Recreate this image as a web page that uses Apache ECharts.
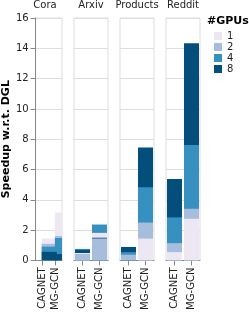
<!DOCTYPE html>
<html>
<head>
<meta charset="utf-8">
<script src="https://cdn.jsdelivr.net/npm/echarts@6/dist/echarts.min.js"></script>
<style>html,body{margin:0;padding:0;background:#fff;}#c{width:249px;height:313px;}</style>
</head>
<body>
<div id="c"></div>
<script>
const datasets = ['Cora', 'Arxiv', 'Products', 'Reddit'];
const methods = ['CAGNET', 'MG-GCN'];
const gpuCounts = ['1', '2', '4', '8'];
const gpuColors = ['#ece7f2', '#a6bddb', '#3690c0', '#034e7b'];
const yTicks = [0, 2, 4, 6, 8, 10, 12, 14, 16];

// speedup w.r.t. DGL, per dataset (Cora, Arxiv, Products, Reddit)
const cagnetGpu1 = [1.44, 0.49, null, 0.55];
const cagnetGpu2 = [1.10, 0.43, 0.38, 1.14];
const cagnetGpu4 = [0.91, 0.76, 0.55, 2.84];
const cagnetGpu8 = [0.57, 0.70, 0.89, 5.37];
const mggcnGpu1 = [3.17, 1.82, 1.44, 2.75];
const mggcnGpu2 = [1.61, 1.45, 2.50, 3.41];
const mggcnGpu4 = [1.48, 2.37, 4.83, 7.62];
const mggcnGpu8 = [0.42, 1.50, 7.45, 14.33];

const cagnet = [cagnetGpu1, cagnetGpu2, cagnetGpu4, cagnetGpu8];
const mggcn = [mggcnGpu1, mggcnGpu2, mggcnGpu4, mggcnGpu8];
const byMethod = [cagnet, mggcn];

const panelLeft = 28, panelWidth = 34, panelStep = 46, panelTop = 18, panelHeight = 252;
const font = 'DejaVu Sans, sans-serif';

const grids = [], xAxes = [], yAxes = [], series = [], titles = [];
datasets.forEach((ds, d) => {
  const left = panelLeft + d * panelStep;
  grids.push({left: left, top: panelTop, width: panelWidth, height: panelHeight,
    show: true, borderColor: '#ddd', borderWidth: 1, containLabel: false});
  titles.push({text: ds, left: left + panelWidth / 2, top: 0, padding: 0, textAlign: 'center',
    textStyle: {fontSize: 10, fontWeight: 'normal', color: '#222', fontFamily: font}});
  xAxes.push({type: 'category', gridIndex: d, data: methods,
    axisLine: {show: true, lineStyle: {color: '#888'}},
    axisTick: {show: true, length: 5, lineStyle: {color: '#888'}, alignWithLabel: true},
    axisLabel: {rotate: 90, fontSize: 10, color: '#222', margin: 7, fontFamily: font, interval: 0},
    splitLine: {show: false}});
  yAxes.push({type: 'value', gridIndex: d, min: yTicks[0], max: yTicks[yTicks.length - 1], interval: 2,
    axisLine: {show: d === 0, lineStyle: {color: '#888'}},
    axisTick: {show: d === 0, length: 5, lineStyle: {color: '#888'}},
    axisLabel: {show: d === 0, fontSize: 10, color: '#222', margin: 7, fontFamily: font},
    splitLine: {show: true, lineStyle: {color: '#ddd', width: 1}},
    name: d === 0 ? 'Speedup w.r.t. DGL' : '', nameLocation: 'middle', nameRotate: 90, nameGap: 19,
    nameTextStyle: {fontSize: 11, fontWeight: 'bold', color: '#000', fontFamily: font}});
  // layered bars: largest drawn behind, smaller in front
  const layers = [[], [], [], []];
  methods.forEach((m, mi) => {
    const items = gpuCounts.map((g, gi) => ({v: byMethod[mi][gi][d], c: gpuColors[gi]}))
      .filter(it => it.v !== null)
      .sort((a, b) => b.v - a.v);
    for (let k = 0; k < 4; k++) {
      const it = items[k];
      layers[k].push(it ? {value: it.v, itemStyle: {color: it.c}} : null);
    }
  });
  layers.forEach((data, k) => {
    series.push({type: 'bar', xAxisIndex: d, yAxisIndex: d, data: data, barWidth: 15,
      barGap: '-100%', z: 2 + k, silent: true, animation: false});
  });
});

// legend feeder series
gpuCounts.forEach((g, gi) => {
  series.push({type: 'bar', name: g, xAxisIndex: 0, yAxisIndex: 0, data: [],
    itemStyle: {color: gpuColors[gi]}, animation: false});
});

const chart = echarts.init(document.getElementById('c'), null, {renderer: 'canvas'});
chart.setOption({
  animation: false,
  title: titles,
  grid: grids,
  xAxis: xAxes,
  yAxis: yAxes,
  series: series,
  legend: {orient: 'vertical', left: 214, top: 31, icon: 'rect', itemWidth: 8, itemHeight: 8,
    itemGap: 1, data: gpuCounts, selectedMode: false,
    textStyle: {fontSize: 10, color: '#222', fontFamily: font}, padding: 0},
  graphic: [{type: 'text', left: 207, top: 16,
    style: {text: '#GPUs', fontSize: 11, fontWeight: 'bold', fill: '#000', fontFamily: font}}]
});
</script>
</body>
</html>
